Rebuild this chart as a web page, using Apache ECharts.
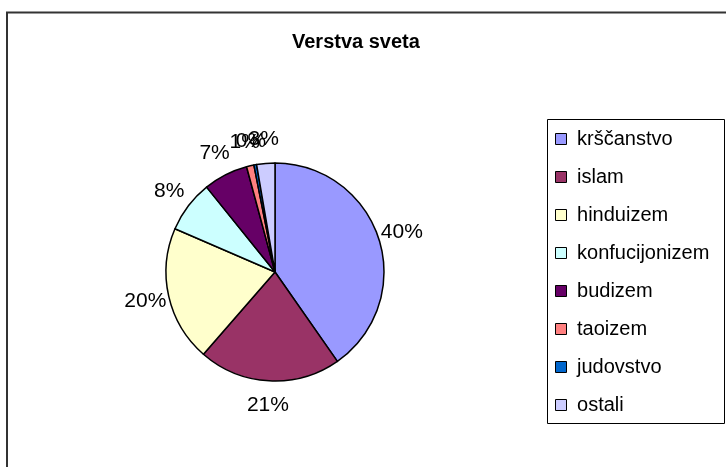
<!DOCTYPE html>
<html>
<head>
<meta charset="utf-8">
<script src="https://cdn.jsdelivr.net/npm/echarts@6/dist/echarts.min.js"></script>
<style>
  html, body { margin: 0; padding: 0; background: #fff; }
  #main { width: 726px; height: 467px; }
</style>
</head>
<body>
<div id="main"></div>
<script>
// podatki
var religije = ['krščanstvo', 'islam', 'hinduizem', 'konfucijonizem', 'budizem', 'taoizem', 'judovstvo', 'ostali'];
var delezi = [40.3, 21.1, 20.1, 7.7, 6.6, 1.1, 0.4, 2.7];
var barve = ['#9999FF', '#993366', '#FFFFCC', '#CCFFFF', '#660066', '#FF8080', '#0066CC', '#CCCCFF'];

var myChart = echarts.init(document.getElementById('main'));

var pieData = religije.map(function (ime, i) {
    return { name: ime, value: delezi[i] };
});

var font = 'Liberation Sans, Arial, sans-serif';

var option = {
    backgroundColor: '#fff',
    animation: false,
    color: barve,
    title: {
        text: 'Verstva sveta',
        left: 292,
        top: 32,
        padding: 0,
        textStyle: { fontFamily: font, fontSize: 20, fontWeight: 'bold', color: '#000' }
    },
    legend: {
        orient: 'vertical',
        left: 555,
        top: 129,
        padding: 0,
        itemWidth: 11,
        itemHeight: 11,
        itemGap: 18,
        icon: 'rect',
        itemStyle: { borderColor: '#000', borderWidth: 1 },
        data: religije,
        formatter: function (name) { return ' ' + name; },
        textStyle: { fontFamily: font, fontSize: 20, color: '#000' }
    },
    graphic: [
        { type: 'rect', shape: { x: 7, y: 12.5, width: 760, height: 500 },
          style: { fill: 'none', stroke: '#333', lineWidth: 2 }, silent: true },
        { type: 'rect', shape: { x: 547.5, y: 119.5, width: 177, height: 304 },
          style: { fill: 'none', stroke: '#000', lineWidth: 1 }, silent: true }
    ],
    series: [
        {
            name: 'Verstva',
            type: 'pie',
            center: [275, 272],
            radius: [0, 109],
            startAngle: 90,
            clockwise: true,
            avoidLabelOverlap: false,
            itemStyle: { borderColor: '#000', borderWidth: 1.5 },
            emphasis: { disabled: true },
            label: {
                show: true,
                position: 'outside',
                fontFamily: font,
                fontSize: 21,
                color: '#000',
                formatter: function (p) { return Math.round(p.percent) + '%'; }
            },
            // nevidna črta, da dobimo točko na radiju za sredino oznake
            labelLine: { show: true, length: 24, length2: 0, lineStyle: { opacity: 0 } },
            labelLayout: function (params) {
                var pts = params.labelLinePoints;
                if (!pts) return {};
                return { x: pts[1][0], y: pts[1][1], align: 'center', verticalAlign: 'middle' };
            },
            data: pieData
        }
    ]
};

myChart.setOption(option);
window.onresize = myChart.resize;
</script>
</body>
</html>
